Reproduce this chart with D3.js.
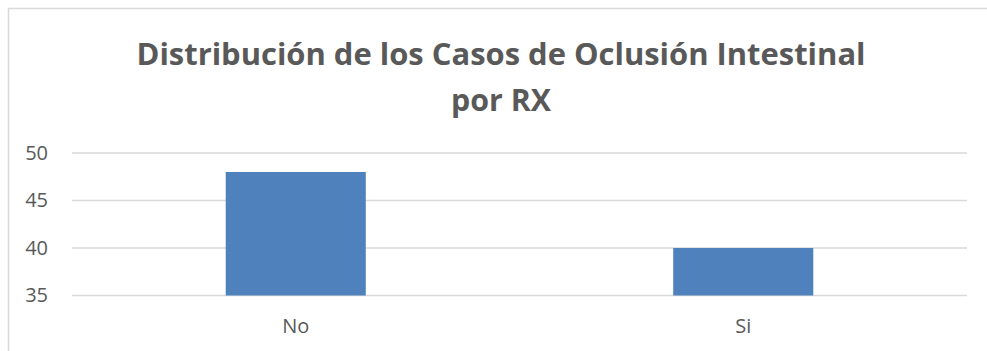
<!DOCTYPE html>
<html>
<head>
<meta charset="utf-8">
<script src="https://cdn.jsdelivr.net/npm/d3@7"></script>
<style>
  html, body { margin: 0; padding: 0; background: #fff; overflow: hidden; }
  svg { display: block; }
</style>
</head>
<body>
<svg id="chart" width="987" height="351"></svg>
<script>
// Data
const categories = ["No", "Si"];
const values = [48, 40];
const yTicks = [35, 40, 45, 50];
const titleLines = ["Distribución de los Casos de Oclusión Intestinal", "por RX"];

const plot = { left: 72, right: 967, top: 153, bottom: 295.5 };
const textColor = "#595959";
const gridColor = "#d9d9d9";
const barColor = "#4f81bd";
const font = "'Open Sans', 'Liberation Sans', sans-serif";

const svg = d3.select("#chart");

// Chart frame (left and top edges)
svg.append("path")
  .attr("d", "M8.5,351V8.5H987")
  .attr("fill", "none")
  .attr("stroke", gridColor)
  .attr("stroke-width", 1.5);

// Title
const title = svg.append("g")
  .attr("font-family", font)
  .attr("font-weight", "bold")
  .attr("font-size", 30)
  .attr("fill", textColor)
  .attr("text-anchor", "middle");
title.append("text").attr("x", 501).attr("y", 64.5)
  .attr("textLength", 729).attr("lengthAdjust", "spacingAndGlyphs")
  .text(titleLines[0]);
title.append("text").attr("x", 501).attr("y", 111)
  .attr("textLength", 100).attr("lengthAdjust", "spacingAndGlyphs")
  .text(titleLines[1]);

// Scales
const x = d3.scaleBand().domain(categories).range([plot.left, plot.right]).paddingInner(0.687).paddingOuter(0.3435);
const y = d3.scaleLinear().domain([35, 50]).range([plot.bottom, plot.top]);

// Gridlines
svg.append("g")
  .selectAll("line")
  .data(yTicks)
  .join("line")
  .attr("x1", plot.left).attr("x2", plot.right)
  .attr("y1", d => y(d)).attr("y2", d => y(d))
  .attr("stroke", gridColor)
  .attr("stroke-width", 1.3);

// Y axis labels
const yAxis = svg.append("g")
  .attr("transform", `translate(${plot.left},0)`)
  .call(d3.axisLeft(y).tickValues(yTicks).tickSize(0).tickPadding(24));
yAxis.select(".domain").remove();
yAxis.selectAll("text")
  .attr("font-family", font)
  .attr("font-size", 20)
  .attr("fill", textColor);

// Bars
svg.append("g")
  .selectAll("rect")
  .data(categories)
  .join("rect")
  .attr("x", d => x(d))
  .attr("width", x.bandwidth())
  .attr("y", (d, i) => y(values[i]))
  .attr("height", (d, i) => y(35) - y(values[i]))
  .attr("fill", barColor);

// X axis labels
const xAxis = svg.append("g")
  .attr("transform", `translate(0,${plot.bottom})`)
  .call(d3.axisBottom(x).tickSize(0).tickPadding(23));
xAxis.select(".domain").remove();
xAxis.selectAll("text")
  .attr("font-family", font)
  .attr("font-size", 20)
  .attr("fill", textColor);
</script>
</body>
</html>
